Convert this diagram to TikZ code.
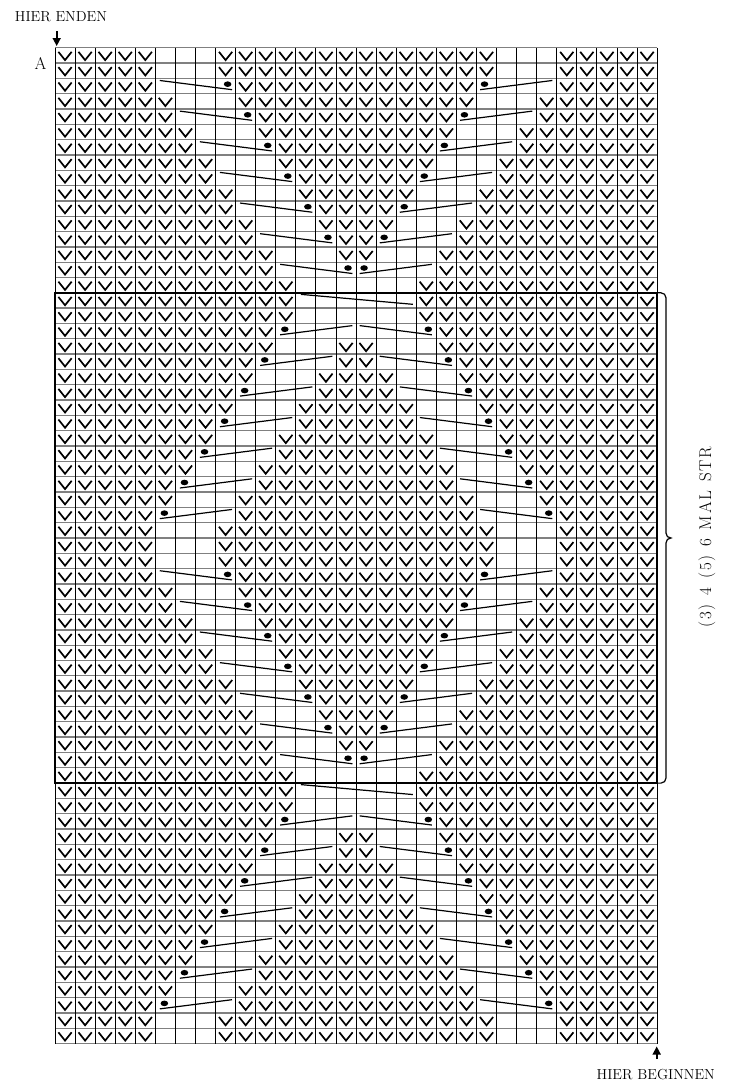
\documentclass[tikz,border=0pt]{standalone}
\usetikzlibrary{arrows.meta}
\newcommand\knitV[2]{\draw[vst] (#1+0.17,#2+0.27) -- (#1+0.5,#2+0.81) -- (#1+0.83,#2+0.27);}
\newcommand\gp{\hspace{1.8pt}}
\begin{document}
\begin{tikzpicture}[x=1pt,y=-1pt,
  vst/.style={line width=1.7pt, line join=miter, black},
  cab/.style={line width=1.2pt, black},
  hgrid/.style={line width=1.3pt, black!50},
  vgrid/.style={line width=0.9pt, black},
  frame/.style={line width=1.8pt, black},
  bracestyle/.style={line width=1.2pt, black},
  arr/.style={line width=1.6pt, -{Triangle[width=8pt,length=8pt]}},
  lbl/.style={inner sep=0pt, font=\fontsize{14.5}{17}\selectfont}]
\useasboundingbox (0,0) rectangle (734,1082);
\fill[white] (0,0) rectangle (734,1082);
\begin{scope}[shift={(55pt,-47.7pt)}, x=20.07pt, y=-15.32pt]
  \foreach \R in {0,...,65} \draw[hgrid] (0,\R) -- (30,\R);
  \foreach \C in {0,...,30} \draw[vgrid] (\C,0) -- (\C,65);
  \foreach \R in {0,...,64}{
    \pgfmathtruncatemacro\pp{mod(\R,32)}
    \def\ct{0}
    \ifnum\pp<16
      \ifnum\pp<2
        \def\aone{5}\def\bone{7}\def\atwo{22}\def\btwo{24}
      \else
        \ifodd\pp\relax
          \pgfmathtruncatemacro\kk{(\pp-1)/2}
          \pgfmathtruncatemacro\aone{5+\kk}
          \pgfmathtruncatemacro\bone{7+\kk}
          \pgfmathtruncatemacro\atwo{22-\kk}
          \pgfmathtruncatemacro\btwo{24-\kk}
        \else
          \pgfmathtruncatemacro\kk{\pp/2}
          \pgfmathtruncatemacro\aone{4+\kk}
          \pgfmathtruncatemacro\bone{7+\kk}
          \pgfmathtruncatemacro\atwo{22-\kk}
          \pgfmathtruncatemacro\btwo{25-\kk}
          \def\ct{1}
        \fi
      \fi
    \else
      \pgfmathtruncatemacro\rr{\pp-16}
      \ifnum\rr=0
        \def\aone{12}\def\bone{17}\def\atwo{12}\def\btwo{17}
        \def\ct{3}
      \else
        \ifodd\rr\relax
          \pgfmathtruncatemacro\jj{(\rr-1)/2}
          \pgfmathtruncatemacro\aone{12-\jj}
          \pgfmathtruncatemacro\bone{14-\jj}
          \pgfmathtruncatemacro\atwo{15+\jj}
          \pgfmathtruncatemacro\btwo{17+\jj}
        \else
          \pgfmathtruncatemacro\jj{\rr/2}
          \pgfmathtruncatemacro\aone{12-\jj}
          \pgfmathtruncatemacro\bone{15-\jj}
          \pgfmathtruncatemacro\atwo{14+\jj}
          \pgfmathtruncatemacro\btwo{17+\jj}
          \def\ct{2}
        \fi
      \fi
    \fi
    \foreach \C in {0,...,29}{
      \ifnum\C<\aone \knitV{\C}{\R}\fi
      \ifnum\C>\btwo \knitV{\C}{\R}\fi
      \ifnum\C>\bone \ifnum\C<\atwo \knitV{\C}{\R}\fi\fi
    }
    \ifnum\ct=1
      \draw[cab] (\aone+0.22,\R+0.14) -- (\bone+0.82,\R+0.74);
      \fill (\bone+0.6,\R+0.38) ellipse [x radius=3.8pt, y radius=2.8pt];
      \draw[cab] (\atwo+0.18,\R+0.74) -- (\btwo+0.78,\R+0.14);
      \fill (\atwo+0.4,\R+0.38) ellipse [x radius=3.8pt, y radius=2.8pt];
    \fi
    \ifnum\ct=2
      \draw[cab] (\aone+0.22,\R+0.74) -- (\bone+0.82,\R+0.14);
      \fill (\aone+0.45,\R+0.38) ellipse [x radius=3.8pt, y radius=2.8pt];
      \draw[cab] (\atwo+0.18,\R+0.14) -- (\btwo+0.78,\R+0.74);
      \fill (\btwo+0.6,\R+0.38) ellipse [x radius=3.8pt, y radius=2.8pt];
    \fi
    \ifnum\ct=3
      \draw[cab] (12.25,\R+0.1) -- (17.83,\R+0.75);
    \fi
  }
  \draw[frame] (0,16) rectangle (30,48);
\end{scope}
% brace
\draw[bracestyle, rounded corners=5pt] (657,292.8) -- (666,292.8) -- (666,533);
\draw[bracestyle] (666,533) .. controls (666,536) and (668,538) .. (671,538) .. controls (668,538) and (666,540) .. (666,543);
\draw[bracestyle, rounded corners=5pt] (666,543) -- (666,783.1) -- (657,783.1);
% arrows
\coordinate (topstart) at (56.7,31);
\coordinate (topend) at (56.7,46);
\draw[arr] (topstart) -- (topend);
\coordinate (botstart) at (656.7,1059);
\coordinate (botend) at (656.7,1046.5);
\draw[arr] (botstart) -- (botend);
% labels
\node[lbl] (ende) at (61,16.7) {HIER ENDEN};
\node[lbl] (beginn) at (655.8,1074.7) {HIER BEGINNEN};
\node[lbl, font=\fontsize{17}{20}\selectfont] (alabel) at (40.5,63.2) {A};
\node[lbl, rotate=90, font=\fontsize{17}{20}\selectfont] (rep) at (707,537)
  {(\gp 3\gp )\gp\ \gp 4\gp\ \gp (\gp 5\gp )\gp\ \gp 6\gp\ \gp M\gp A\gp L\gp\ \gp S\gp T\gp R};
\end{tikzpicture}
\end{document}
